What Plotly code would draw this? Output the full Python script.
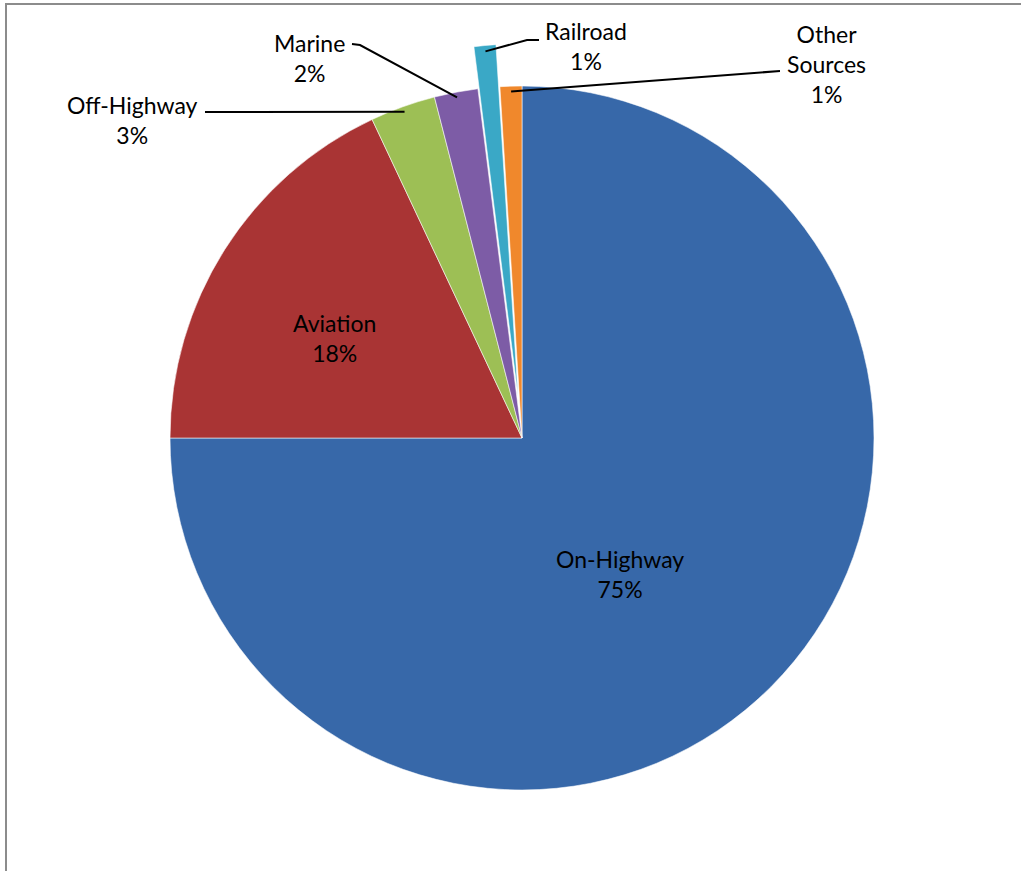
import math
import plotly.graph_objects as go

# Share of emissions by transportation source
categories = ["On-Highway", "Aviation", "Off-Highway", "Marine", "Railroad", "Other Sources"]
shares = [75, 18, 3, 2, 1, 1]
pulls = [0, 0, 0, 0, 0.12, 0]
colors = ["#3768A9", "#A93434", "#9DBF55", "#7D5CA6", "#3AA8C6", "#F0882C"]

W, H = 1021, 871
CX, CY, R = 522, 438, 352          # pie centre and radius in page pixels
FONT = "Lato, Carlito, Calibri, sans-serif"


def px(x, y):
    """Page pixels -> paper coordinates."""
    return x / W, 1 - y / H


# pie domain sized so the unpulled radius equals R (plotly shrinks by 1 + max pull)
half = R * (1 + max(pulls))
x0, y1 = px(CX - half, CY - half)
x1, y0 = px(CX + half, CY + half)

fig = go.Figure(go.Pie(
    labels=categories,
    values=shares,
    pull=pulls,
    sort=False,
    direction="clockwise",
    rotation=0,
    marker=dict(colors=colors, line=dict(color="rgba(255,255,255,0.55)", width=1)),
    textinfo="none",
    hoverinfo="label+percent",
    showlegend=False,
    domain=dict(x=[x0, x1], y=[y0, y1]),
))

total = sum(shares)


def slice_tip(i, frac=1.0):
    """Point on the outer edge of slice i at its mid angle (page pixels)."""
    start = sum(shares[:i]) / total
    mid = (start + shares[i] / total / 2) * 2 * math.pi
    r = R * (1 + pulls[i]) * frac
    return CX + r * math.sin(mid), CY - r * math.cos(mid)


def label_text(i):
    name = categories[i].replace(" ", "<br>")
    return f"{name}<br>{round(100 * shares[i] / total)}%"


# label centres (page pixels) and leader-line start points
label_pos = {
    "On-Highway": (620, 574),
    "Aviation": (334, 338),
    "Off-Highway": (132, 120),
    "Marine": (309, 58),
    "Railroad": (586, 46),
    "Other Sources": (826, 64),
}
leader_start = {
    "Off-Highway": [(205, 112)],
    "Marine": [(352, 44), (360, 45)],
    "Railroad": [(539, 40), (527, 40)],
    "Other Sources": [(780, 71)],
}

annotations = []
for i, name in enumerate(categories):
    lx, ly = label_pos[name]
    ax, ay = px(lx, ly)
    annotations.append(dict(
        x=ax, y=ay, xref="paper", yref="paper", text=label_text(i),
        showarrow=False, xanchor="center", yanchor="middle",
        font=dict(family=FONT, size=23, color="#000000"),
    ))

shapes = []
for name, pts in leader_start.items():
    i = categories.index(name)
    tip = slice_tip(i, 0.985)
    path_pts = [px(*p) for p in pts] + [px(*tip)]
    d = "M " + " L ".join(f"{a:.5f},{b:.5f}" for a, b in path_pts)
    shapes.append(dict(type="path", path=d, xref="paper", yref="paper",
                       line=dict(color="#000000", width=2)))

# chart-area frame (top and left edges fall inside the page)
fx0, fy0 = px(6, 4)
shapes.append(dict(type="rect", xref="paper", yref="paper",
                   x0=fx0, y0=fy0, x1=1.05, y1=-0.05,
                   line=dict(color="#8C8C8C", width=2), layer="below"))

fig.update_layout(
    width=W, height=H,
    margin=dict(l=0, r=0, t=0, b=0),
    paper_bgcolor="#FFFFFF",
    plot_bgcolor="#FFFFFF",
    annotations=annotations,
    shapes=shapes,
)

fig.write_html("out.html")
